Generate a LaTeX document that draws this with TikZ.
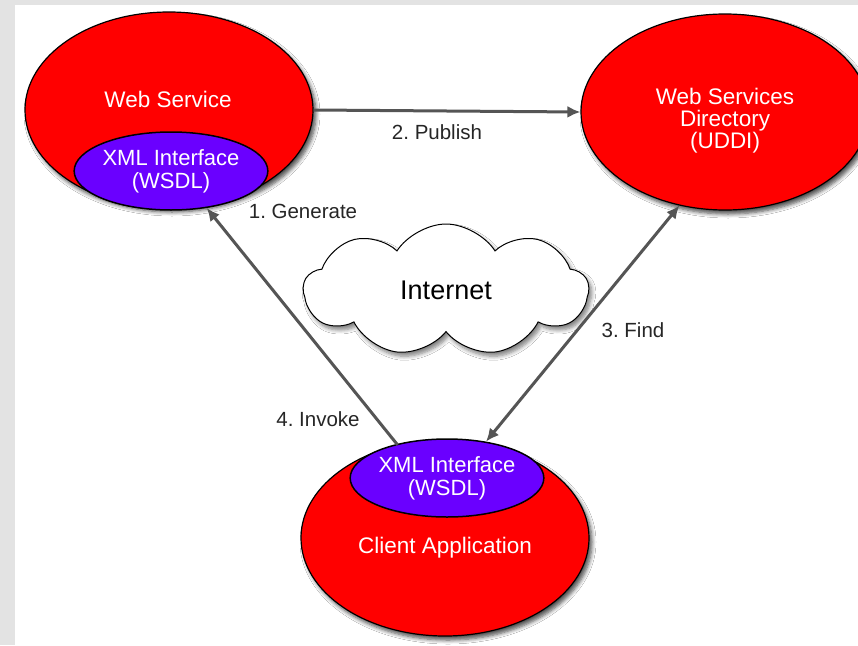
\documentclass[tikz,border=0pt]{standalone}
\usepackage{fontspec}
\setmainfont{Liberation Sans}
\frenchspacing
\usetikzlibrary{shapes.geometric,shapes.symbols,shadows.blur,arrows.meta}
\definecolor{wsred}{RGB}{255,0,0}
\definecolor{wsdlblue}{RGB}{106,0,255}
\definecolor{linkgray}{RGB}{85,85,85}
\definecolor{framegray}{RGB}{227,227,227}
\tikzset{
	bigoval/.style={ellipse, draw=black, line width=1.2pt, fill=wsred, minimum width=288pt, minimum height=196pt, inner sep=0pt,
		blur shadow={shadow xshift=3pt, shadow yshift=-4pt, shadow blur radius=4pt, shadow blur steps=6, shadow opacity=70}},
	wsdloval/.style={ellipse, draw=black, line width=1.5pt, fill=wsdlblue, minimum width=184pt, minimum height=78pt, inner sep=0pt,
		text=white, align=center, font=\fontsize{22}{23}\selectfont},
	ovaltext/.style={text=white, align=center, font=\fontsize{22.5}{22}\selectfont},
	steplabel/.style={text=black!85, font=\fontsize{20.5}{22}\selectfont},
	link/.style={line width=3pt, draw=linkgray}
}
\begin{document}
\begin{tikzpicture}[x=1pt, y=-1pt, >={Latex[length=13pt,width=12pt]}]
	\fill [framegray] (0,0) rectangle (858,645);
	\fill [white] (15,5) rectangle (858,645);
	\useasboundingbox (0,0) rectangle (858,645);
	% the three parties
	\node [bigoval] (ws) at (169,110) {};
	\node [ovaltext] (wstext) at (168,99) {Web Service};
	\node [wsdloval] (wsx) at (171,171) {XML Interface\\(WSDL)};
	\node [bigoval] (dir) at (725,112) {};
	\node [ovaltext] (dirtext) at (725,121) {Web Services\\Directory\\(UDDI)};
	\node [bigoval] (cli) at (445,538) {};
	\node [wsdloval] (clix) at (447,478) {XML Interface\\(WSDL)};
	\node [ovaltext] (clitext) at (445,548) {Client Application};
	% the cloud
	\node [cloud, cloud puffs=9, cloud puff arc=115, aspect=2.2, draw=black, line width=1pt, fill=white,
		minimum width=285pt, minimum height=132pt, font=\fontsize{27}{28}\selectfont,
		blur shadow={shadow xshift=3pt, shadow yshift=-4pt, shadow blur radius=4pt, shadow blur steps=6, shadow opacity=50}] (net) at (446,290) {Internet};
	% the links
	\draw [link, ->] (ws.east) -- (dir.west);
	\draw [link, ->] (cli.117) -- (wsx.-46);
	\draw [link, <->] (clix.43) -- (dir.-116);
	\node [steplabel] (publish) at (437,132) {2. Publish};
	\node [steplabel] (generate) at (303,211) {1. Generate};
	\node [steplabel] (find) at (633,330) {3. Find};
	\node [steplabel] (invoke) at (318,419) {4. Invoke};
\end{tikzpicture}
\end{document}
